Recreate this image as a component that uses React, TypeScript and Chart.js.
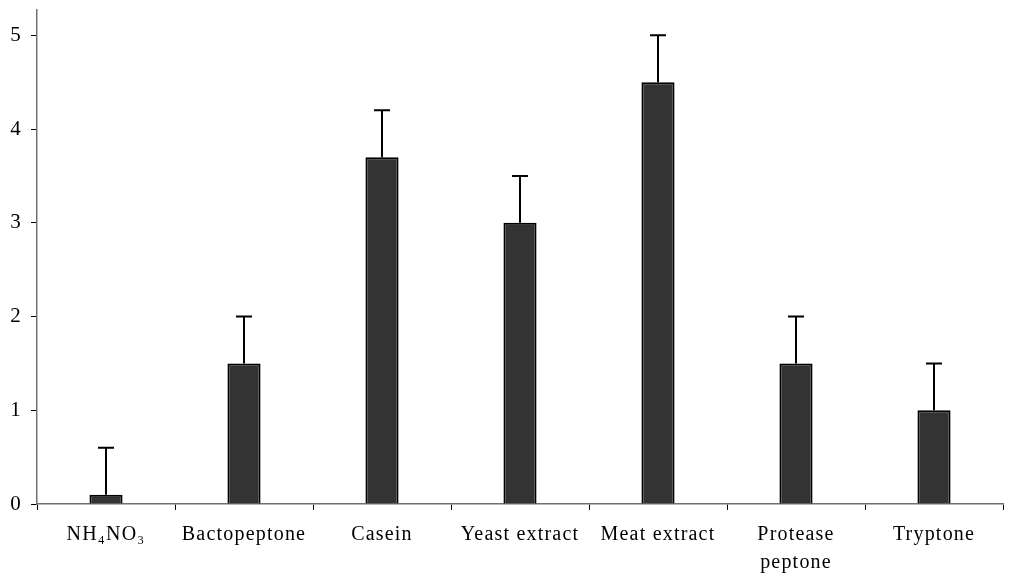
import React, { useEffect, useRef } from "react";
import { Chart, registerables } from "chart.js";

Chart.register(...registerables);

const categories: (string | string[])[] = [
  "NH₄NO₃",
  "Bactopeptone",
  "Casein",
  "Yeast extract",
  "Meat extract",
  ["Protease", "peptone"],
  "Tryptone",
];
const values = [0.1, 1.5, 3.7, 3.0, 4.5, 1.5, 1.0];
const errors = [0.5, 0.5, 0.5, 0.5, 0.5, 0.5, 0.5];
const yTicks = [0, 1, 2, 3, 4, 5];

const spacingPlugin = {
  id: "letterSpacing",
  beforeDraw(chart: any) {
    chart.ctx.letterSpacing = "1.2px";
  },
};

const errorBarPlugin = {
  id: "errorBars",
  afterDatasetsDraw(chart: any) {
    const ctx = chart.ctx;
    const meta = chart.getDatasetMeta(0);
    const y = chart.scales.y;
    ctx.save();
    ctx.strokeStyle = "#000";
    ctx.lineWidth = 2;
    meta.data.forEach((bar: any, i: number) => {
      const x = bar.x;
      const yTop = y.getPixelForValue(values[i] + errors[i]);
      const yBase = y.getPixelForValue(values[i]);
      ctx.beginPath();
      ctx.moveTo(x, yBase);
      ctx.lineTo(x, yTop);
      ctx.moveTo(x - 8, yTop);
      ctx.lineTo(x + 8, yTop);
      ctx.stroke();
    });
    ctx.restore();
  },
};

export default function App() {
  const ref = useRef<HTMLCanvasElement>(null);
  useEffect(() => {
    const chart = new Chart(ref.current!, {
      type: "bar",
      data: {
        labels: categories,
        datasets: [
          {
            data: values,
            backgroundColor: "#333333",
            borderColor: "#000000",
            borderWidth: 2,
            barPercentage: 0.24,
            categoryPercentage: 1,
          },
        ],
      },
      plugins: [spacingPlugin, errorBarPlugin],
      options: {
        animation: false,
        responsive: false,
        layout: { padding: { left: 0, right: 13, top: 10, bottom: 0 } },
        plugins: { legend: { display: false }, tooltip: { enabled: false } },
        scales: {
          x: {
            offset: true,
            grid: {
              offset: true,
              drawOnChartArea: false,
              drawTicks: true,
              tickLength: 6,
              color: "#000",
            },
            border: { color: "#707070", width: 1.5 },
            ticks: {
              color: "#000",
              font: { family: "'Liberation Serif', 'Times New Roman', serif", size: 20, lineHeight: 1.4 },
              padding: 11,
              maxRotation: 0,
              autoSkip: false,
            },
            afterFit(scale: any) {
              scale.height = 73;
              scale.paddingLeft = 0;
              scale.paddingRight = 0;
            },
          },
          y: {
            min: 0,
            max: 5.27,
            afterBuildTicks(scale: any) {
              scale.ticks = yTicks.map((v) => ({ value: v }));
            },
            grid: {
              drawOnChartArea: false,
              drawTicks: true,
              tickLength: 6,
              color: "#000",
            },
            border: { color: "#707070", width: 1.5 },
            ticks: {
              color: "#000",
              font: { family: "'Liberation Serif', 'Times New Roman', serif", size: 21 },
              padding: 9,
            },
            afterFit(scale: any) {
              scale.width = 37;
              scale.paddingTop = 0;
              scale.paddingBottom = 0;
            },
          },
        },
      },
    });
    return () => chart.destroy();
  }, []);
  return (
    <div style={{ position: "fixed", left: 0, top: 0, width: 1016, height: 577, background: "#fff" }}>
      <canvas ref={ref} width={1016} height={577} />
    </div>
  );
}
